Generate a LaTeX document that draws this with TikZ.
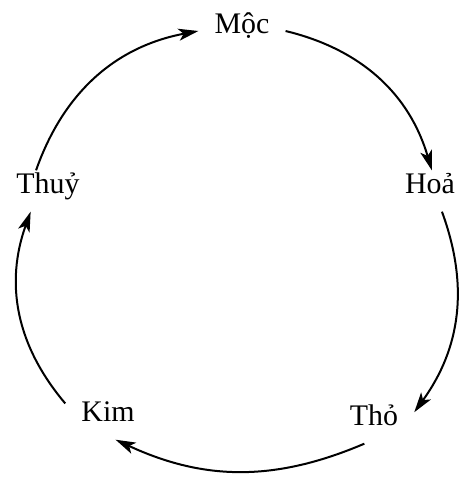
\documentclass[tikz,border=0pt]{standalone}
\usepackage{fontspec}
\setmainfont{Liberation Serif}
\usetikzlibrary{arrows.meta}
\begin{document}
\begin{tikzpicture}[x=1bp,y=-1bp,font=\fontsize{30}{32}\selectfont,
  hanh/.style={inner sep=16bp,text height=0.7em,text depth=0.2em},
  chu/.style={-{Stealth[length=20bp,width=12bp,inset=5bp]},line width=2bp}]
\useasboundingbox (0,0) rectangle (462,489);
\node[hanh] (moc) at (242,31) {Mộc};
\node[hanh] (hoa) at (430,191) {Hoả};
\node[hanh] (tho) at (374,423) {Thỏ};
\node[hanh] (kim) at (108,419) {Kim};
\node[hanh] (thuy) at (48,191) {Thuỷ};

\draw[chu] (moc.east) to[bend left=30] (hoa.85);
\draw[chu] (hoa.-60) to[bend left=28] (tho.15);
\draw[chu] (tho.-115) to[bend left=24] (kim.-70);
\draw[chu] (kim.160) to[bend left=30] (thuy.-130);
\draw[chu] (thuy.120) to[bend left=30] (moc.west);
\end{tikzpicture}
\end{document}
